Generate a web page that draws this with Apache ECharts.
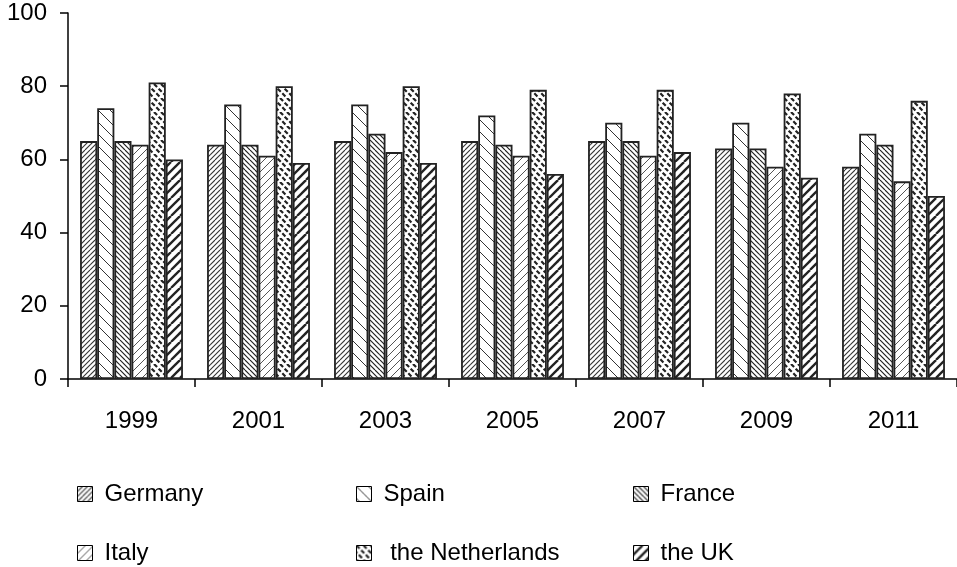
<!DOCTYPE html>
<html>
<head>
<meta charset="utf-8">
<script src="https://cdn.jsdelivr.net/npm/echarts@6/dist/echarts.min.js"></script>
<style>
  html, body { margin: 0; padding: 0; background: #fff; }
  #chart { width: 957px; height: 567px; }
</style>
</head>
<body>
<div id="chart"></div>
<script>
// Years on the category axis
const years = ['1999', '2001', '2003', '2005', '2007', '2009', '2011'];

// Values per country
const germany     = [65, 64, 65, 65, 65, 63, 58];
const spain       = [74, 75, 75, 72, 70, 70, 67];
const france      = [65, 64, 67, 64, 65, 63, 64];
const italy       = [64, 61, 62, 61, 61, 58, 54];
const netherlands = [81, 80, 80, 79, 79, 78, 76];
const uk          = [60, 59, 59, 56, 62, 55, 50];

// Y axis ticks
const yTicks = [0, 20, 40, 60, 80, 100];

// Tileable diagonal hatch; `step` is the horizontal distance between lines,
// `dash` (optional) splits each line into dashes that repeat cleanly in the tile.
function hatch(step, dir, width, color, dash) {
  const size = step * 2;
  const c = document.createElement('canvas');
  c.width = size; c.height = size;
  const g = c.getContext('2d');
  g.fillStyle = '#fff';
  g.fillRect(0, 0, size, size);
  g.strokeStyle = color;
  g.lineWidth = width;
  g.lineCap = 'butt';
  if (dash) g.setLineDash(dash);
  for (let k = -2; k <= 2; k++) {
    g.beginPath();
    if (dir === '/') {
      g.moveTo(k * step, size);
      g.lineTo(k * step + size, 0);
    } else {
      g.moveTo(k * step, 0);
      g.lineTo(k * step + size, size);
    }
    g.stroke();
  }
  return c;
}

const pat = (canvas) => ({ image: canvas, repeat: 'repeat' });

// dash period for the dashed hatch: a third of the tile diagonal (14 * sqrt 2 / 3)
const dashPeriod = 14 * Math.SQRT2 / 3;

const seriesDefs = [
  { name: 'Germany',          data: germany,     fill: pat(hatch(5, '/', 1.1, '#333')) },
  { name: 'Spain',            data: spain,       fill: pat(hatch(12, '\\', 1, '#333')) },
  { name: 'France',           data: france,      fill: pat(hatch(5, '\\', 1.2, '#222')) },
  { name: 'Italy',            data: italy,       fill: pat(hatch(8, '/', 1, '#555')) },
  { name: 'the Netherlands',  data: netherlands, fill: pat(hatch(7, '\\', 2.2, '#222', [dashPeriod * 0.66, dashPeriod * 0.34])) },
  { name: 'the UK',           data: uk,          fill: pat(hatch(9, '/', 2.3, '#222')) }
];

const FONT = 'Liberation Sans, Arial, sans-serif';

// Legend: two rows of three columns
const colX = [77, 356, 633];
const rowY = [482, 541];
const legendText = ['Germany', 'Spain', 'France', 'Italy', ' the Netherlands', 'the UK'];
const legends = seriesDefs.map((s, i) => ({
  data: [s.name],
  left: colX[i % 3],
  top: rowY[Math.floor(i / 3)],
  padding: 0,
  orient: 'horizontal',
  icon: 'rect',
  itemWidth: 15,
  itemHeight: 15,
  selectedMode: false,
  itemStyle: { borderColor: '#000', borderWidth: 1 },
  formatter: () => legendText[i],
  textStyle: { fontFamily: FONT, fontSize: 24, color: '#000', padding: [0, 0, 0, 7] }
}));

const chart = echarts.init(document.getElementById('chart'), null, { renderer: 'canvas' });
chart.setOption({
  animation: false,
  backgroundColor: '#fff',
  grid: { left: 68, top: 13, width: 890, height: 366, containLabel: false },
  legend: legends,
  xAxis: {
    type: 'category',
    data: years,
    boundaryGap: true,
    axisLine: { lineStyle: { color: '#000', width: 1.5 } },
    axisTick: { show: true, length: 8, inside: false, alignWithLabel: false, lineStyle: { color: '#000', width: 1.5 } },
    axisLabel: { fontFamily: FONT, fontSize: 24, color: '#000', margin: 30 }
  },
  yAxis: {
    type: 'value',
    min: yTicks[0],
    max: yTicks[yTicks.length - 1],
    interval: yTicks[1] - yTicks[0],
    axisLine: { show: true, lineStyle: { color: '#000', width: 1.5 } },
    axisTick: { show: true, length: 8, inside: false, lineStyle: { color: '#000', width: 1.5 } },
    splitLine: { show: false },
    axisLabel: { fontFamily: FONT, fontSize: 24, color: '#000', margin: 21 }
  },
  series: seriesDefs.map(s => ({
    name: s.name,
    type: 'bar',
    data: s.data,
    barGap: '0%',
    barCategoryGap: '19%',
    itemStyle: { color: s.fill, borderColor: '#222', borderWidth: 1.8 }
  }))
});
</script>
</body>
</html>
